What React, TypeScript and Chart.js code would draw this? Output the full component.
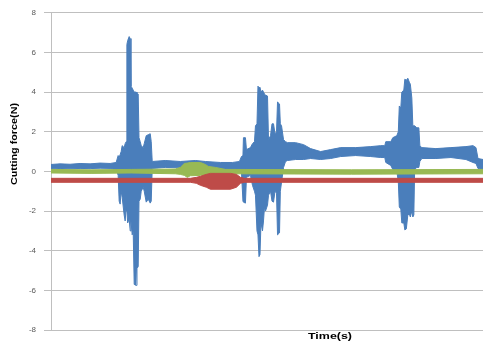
import React, { useEffect, useRef } from "react";
import { Chart, registerables } from "chart.js";

Chart.register(...registerables);

// Time index (arbitrary sample units, axis shows no tick labels)
const blueTime = [0, 9, 19, 29, 39, 49, 59, 65,
  67, 68, 69, 70, 71, 73, 74, 75, 75.7, 76.5, 78, 79, 79.8, 81, 82, 83, 85, 85.8, 87, 87.8, 89, 90, 92, 93, 95, 97, 99, 100, 101,
  114, 129, 144, 154, 169, 181, 188,
  190, 191.5, 192, 194, 195, 199, 201, 203, 204, 205.5, 206.5, 207.5, 208.5, 209.5, 211, 212, 213, 214, 216, 217, 219, 220.5, 222, 223.5, 225, 226, 228, 228.8, 230, 232, 234, 236,
  244, 252, 259, 269, 279, 289, 304, 319, 329, 333,
  334, 339, 341, 345, 346.5, 347.5, 349, 350, 352, 353, 354.5, 356, 357.5, 358.5, 360, 361, 362, 362.8, 365, 367, 368, 370,
  384, 399, 414, 421, 424, 426, 431];
const blueUpper = [0.35, 0.38, 0.36, 0.4, 0.38, 0.42, 0.4, 0.45,
  0.8, 0.7, 0.85, 1.0, 1.3, 1.2, 1.4, 1.5, 6.4, 6.6, 6.8, 6.7, 4.3, 4.2, 4.1, 4.0, 4.0, 3.9, 3.9, 1.7, 1.5, 1.3, 1.2, 1.4, 1.8, 1.85, 1.9, 1.5, 0.5,
  0.55, 0.5, 0.55, 0.5, 0.45, 0.45, 0.5,
  0.75, 0.8, 1.7, 1.7, 1.1, 1.2, 1.4, 1.5, 2.3, 2.4, 4.3, 4.2, 4.25, 4.0, 4.1, 4.0, 3.9, 3.85, 3.8, 1.6, 1.8, 2.4, 2.4, 1.9, 2.0, 3.5, 3.4, 2.4, 2.3, 1.6, 1.5, 1.45,
  1.45, 1.35, 1.15, 1.0, 1.1, 1.2, 1.2, 1.25, 1.3, 1.3,
  1.5, 1.5, 1.7, 1.8, 2.0, 3.3, 3.2, 4.0, 4.1, 4.65, 4.6, 4.7, 4.5, 4.4, 3.7, 2.3, 2.3, 2.3, 2.2, 2.2, 1.3, 1.2,
  1.15, 1.2, 1.25, 1.3, 1.2, 0.65, 0.6];
const blueLower = [0.12, 0.15, 0.13, 0.15, 0.14, 0.16, 0.15, 0.1,
  -0.2, -1.5, -1.65, -1.0, -1.3, -2.2, -2.5, -1.8, -2.0, -2.6, -2.4, -3.0, -2.5, -3.2, -3.0, -5.7, -5.75, -4.9, -4.8, -1.5, -1.4, -1.0, -0.8, -1.0, -1.55, -1.4, -1.6, -1.5, 0.15,
  0.2, 0.18, 0.2, 0.15, 0.12, 0.1, 0.1,
  0.0, -1.5, -1.55, -1.6, -0.3, -0.2, -0.7, -1.0, -1.2, -3.0, -3.2, -4.3, -4.2, -2.6, -3.0, -2.5, -1.8, -2.0, -1.7, -1.2, -1.0, -1.5, -1.55, -1.0, -1.1, -3.2, -3.1, -1.0, -0.55, 0.2, 0.5, 0.55,
  0.6, 0.6, 0.65, 0.6, 0.65, 0.75, 0.8, 0.75, 0.7, 0.7,
  0.45, 0.3, 0.1, 0.0, -0.5, -1.8, -1.9, -2.6, -2.6, -2.95, -2.9, -2.2, -2.15, -2.3, -2.0, -2.3, -2.2, 0.1, 0.2, 0.2, 0.5, 0.65,
  0.65, 0.7, 0.6, 0.45, 0.4, 0.15, 0.1];

const greenTime = [0, 40, 80, 124, 129, 133, 136, 139, 149, 154, 157, 164, 174, 300, 431];
const greenUpper = [0.1, 0.08, 0.1, 0.12, 0.2, 0.4, 0.42, 0.45, 0.45, 0.35, 0.25, 0.2, 0.1, 0.08, 0.1];
const greenLower = [-0.08, -0.1, -0.08, -0.12, -0.15, -0.2, -0.3, -0.22, -0.2, -0.18, -0.15, -0.12, -0.12, -0.14, -0.12];

const redTime = [0, 139, 145, 149, 155, 159, 179, 185, 189, 193, 431];
const redUpper = [-0.35, -0.35, -0.3, -0.25, -0.15, -0.1, -0.1, -0.15, -0.3, -0.35, -0.35];
const redLower = [-0.55, -0.55, -0.6, -0.7, -0.8, -0.9, -0.9, -0.8, -0.6, -0.55, -0.55];

const yMin = -8;
const yMax = 8;
const yStep = 2;
const xTitle = "Time(s)";
const yTitle = "Cutting force(N)";

const BLUE = "#4A7EBB";
const GREEN = "#98B954";
const RED = "#BE4B48";

const pts = (xs: number[], ys: number[]) => xs.map((x, i) => ({ x, y: ys[i] }));

const titlePlugin = {
  id: "titles",
  afterDraw(chart: any) {
    const ctx = chart.ctx as CanvasRenderingContext2D;
    ctx.save();
    ctx.fillStyle = "#000";
    ctx.font = "bold 9px 'Liberation Sans'";
    ctx.textAlign = "center";
    ctx.textBaseline = "middle";
    ctx.save();
    ctx.translate(14.5, 144);
    ctx.rotate(-Math.PI / 2);
    const wy = ctx.measureText(yTitle).width;
    ctx.scale(82 / wy, 1);
    ctx.fillText(yTitle, 0, 0);
    ctx.restore();
    ctx.save();
    ctx.translate(330, 336.5);
    const wx = ctx.measureText(xTitle).width;
    ctx.scale(44 / wx, 1);
    ctx.fillText(xTitle, 0, 0);
    ctx.restore();
    ctx.restore();
  },
};

export default function App() {
  const ref = useRef<HTMLCanvasElement | null>(null);
  useEffect(() => {
    document.body.style.margin = "0";
    const canvas = ref.current!;
    const common = { pointRadius: 0, borderWidth: 1, tension: 0 };
    const chart = new Chart(canvas, {
      type: "line",
      data: {
        datasets: [
          { ...common, data: pts(blueTime, blueUpper), borderColor: BLUE, backgroundColor: BLUE, fill: "+1", order: 2 },
          { ...common, data: pts(blueTime, blueLower), borderColor: BLUE, backgroundColor: BLUE, fill: false, order: 2 },
          { ...common, data: pts(greenTime, greenUpper), borderColor: GREEN, backgroundColor: GREEN, fill: "+1", order: 1 },
          { ...common, data: pts(greenTime, greenLower), borderColor: GREEN, backgroundColor: GREEN, fill: false, order: 1 },
          { ...common, data: pts(redTime, redUpper), borderColor: RED, backgroundColor: RED, fill: "+1", order: 0 },
          { ...common, data: pts(redTime, redLower), borderColor: RED, backgroundColor: RED, fill: false, order: 0 },
        ] as any,
      },
      options: {
        animation: false,
        responsive: false,
        devicePixelRatio: 1,
        layout: { padding: { top: 8, right: 0, left: 0, bottom: 0 } },
        plugins: { legend: { display: false }, tooltip: { enabled: false } },
        scales: {
          x: {
            type: "linear",
            min: 0,
            max: 431,
            ticks: { display: false },
            grid: { display: false },
            border: { display: true, color: "#BFBFBF" },
            afterFit: (s: any) => { s.height = 18; },
          },
          y: {
            min: yMin,
            max: yMax,
            ticks: { stepSize: yStep, color: "#595959", font: { size: 8, family: "'Liberation Sans'" }, padding: 8 },
            grid: { color: "#BFBFBF", tickLength: 7, drawTicks: true },
            border: { display: true, color: "#BFBFBF" },
            afterFit: (s: any) => { s.width = 51; },
          },
        },
      } as any,
      plugins: [titlePlugin],
    });
    return () => chart.destroy();
  }, []);
  return (
    <div style={{ width: 483, height: 348 }}>
      <canvas ref={ref} width={483} height={348} style={{ display: "block" }} />
    </div>
  );
}
